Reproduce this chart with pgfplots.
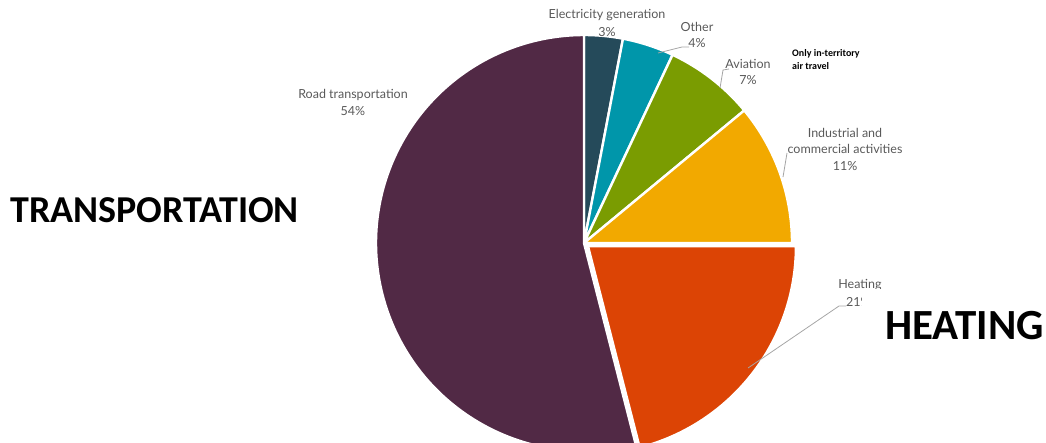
\documentclass[border=0pt]{standalone}
\usepackage{pgfplots}
\pgfplotsset{compat=1.18}
\usepackage{pgfplotstable}
\usepackage{fontspec}
\setmainfont{Lato}
\newfontfamily\carlito{Carlito}

\definecolor{slice0}{RGB}{37,74,90}
\definecolor{slice1}{RGB}{0,150,170}
\definecolor{slice2}{RGB}{122,156,1}
\definecolor{slice3}{RGB}{242,169,0}
\definecolor{slice4}{RGB}{220,68,5}
\definecolor{slice5}{RGB}{81,41,69}
\definecolor{lbl}{RGB}{89,89,89}
\definecolor{leader}{RGB}{166,166,166}

% share (%) of each slice, clockwise from 12 o'clock; explode in px
\pgfplotstableread{
idx value explode
0 3 0
1 4 0
2 7 0
3 11 0
4 21 5
5 54 0
}\piedata

\begin{document}
\begin{tikzpicture}
\xdef\cum{90}
\foreach \i in {0,...,5}{%
  \pgfplotstablegetelem{\i}{value}\of\piedata
  \pgfmathsetmacro\endang{\cum-3.6*\pgfplotsretval}%
  \pgfmathsetmacro\midang{(\cum+\endang)/2}%
  \pgfplotstablegetelem{\i}{explode}\of\piedata
  \expandafter\xdef\csname ex\i\endcsname{\pgfplotsretval}%
  \expandafter\xdef\csname sa\i\endcsname{\cum}%
  \expandafter\xdef\csname ea\i\endcsname{\endang}%
  \expandafter\xdef\csname ma\i\endcsname{\midang}%
  \xdef\cum{\endang}%
}
\begin{axis}[scale only axis, width=1046pt, height=442pt,
  xmin=0, xmax=1046, ymin=0, ymax=442, y dir=reverse, hide axis, clip=true]
\pgfplotsinvokeforeach{0,...,5}{
  \draw[fill=slice#1, draw=white, line width=2.4pt, line join=round]
    (axis cs:584,243) ++(\csname ma#1\endcsname:\csname ex#1\endcsname pt)
    -- ++(\csname sa#1\endcsname:208pt)
    arc[start angle=\csname sa#1\endcsname, end angle=\csname ea#1\endcsname, radius=208pt]
    -- cycle;
}
% leader lines
\draw[leader, line width=0.8pt] (axis cs:658,53) -- (axis cs:682,47) -- (axis cs:689,47);
\draw[leader, line width=0.8pt] (axis cs:720,88) -- (axis cs:723,70) -- (axis cs:729,69);
\draw[leader, line width=0.8pt] (axis cs:783,177) -- (axis cs:787,153);
\draw[leader, line width=0.8pt] (axis cs:748,368) -- (axis cs:839,306) -- (axis cs:846,306);
% labels
\tikzset{lab/.style={text=lbl, font=\fontsize{12.5}{14}\selectfont, inner sep=0pt}}
\node[lab] at (axis cs:607,15) {Electricity generation};
\node[lab] at (axis cs:607,32) {3\%};
\node[lab] at (axis cs:697,27) {Other};
\node[lab] at (axis cs:697,43) {4\%};
\node[lab] at (axis cs:748,64) {Aviation};
\node[lab] at (axis cs:748,80) {7\%};
\node[lab] at (axis cs:845,133) {Industrial and};
\node[lab] at (axis cs:845,149) {commercial activities};
\node[lab] at (axis cs:845,166) {11\%};
\node[lab] at (axis cs:860,285) {Heating};
\node[lab, anchor=west] at (axis cs:846,302) {21\%};
\node[lab] at (axis cs:353,95) {Road transportation};
\node[lab] at (axis cs:353,111) {54\%};
\node[anchor=west, inner sep=0pt, font=\carlito\bfseries\fontsize{10}{11}\selectfont] at (axis cs:792,54) {Only in-territory};
\node[anchor=west, inner sep=0pt, font=\carlito\bfseries\fontsize{10}{11}\selectfont] at (axis cs:792,66) {air travel};
\node[anchor=west, inner sep=0pt, font=\carlito\bfseries\fontsize{38}{40}\selectfont] at (axis cs:10,210) {TRANSPORTATION};
\fill[white] (axis cs:862,289) rectangle (axis cs:1046,372);
\node[anchor=west, inner sep=0pt, font=\carlito\bfseries\fontsize{43}{45}\selectfont] at (axis cs:885,326) {HEATING};
\end{axis}
\pgfresetboundingbox
\path (0,0) rectangle (1046pt,442pt);
\end{tikzpicture}
\end{document}
